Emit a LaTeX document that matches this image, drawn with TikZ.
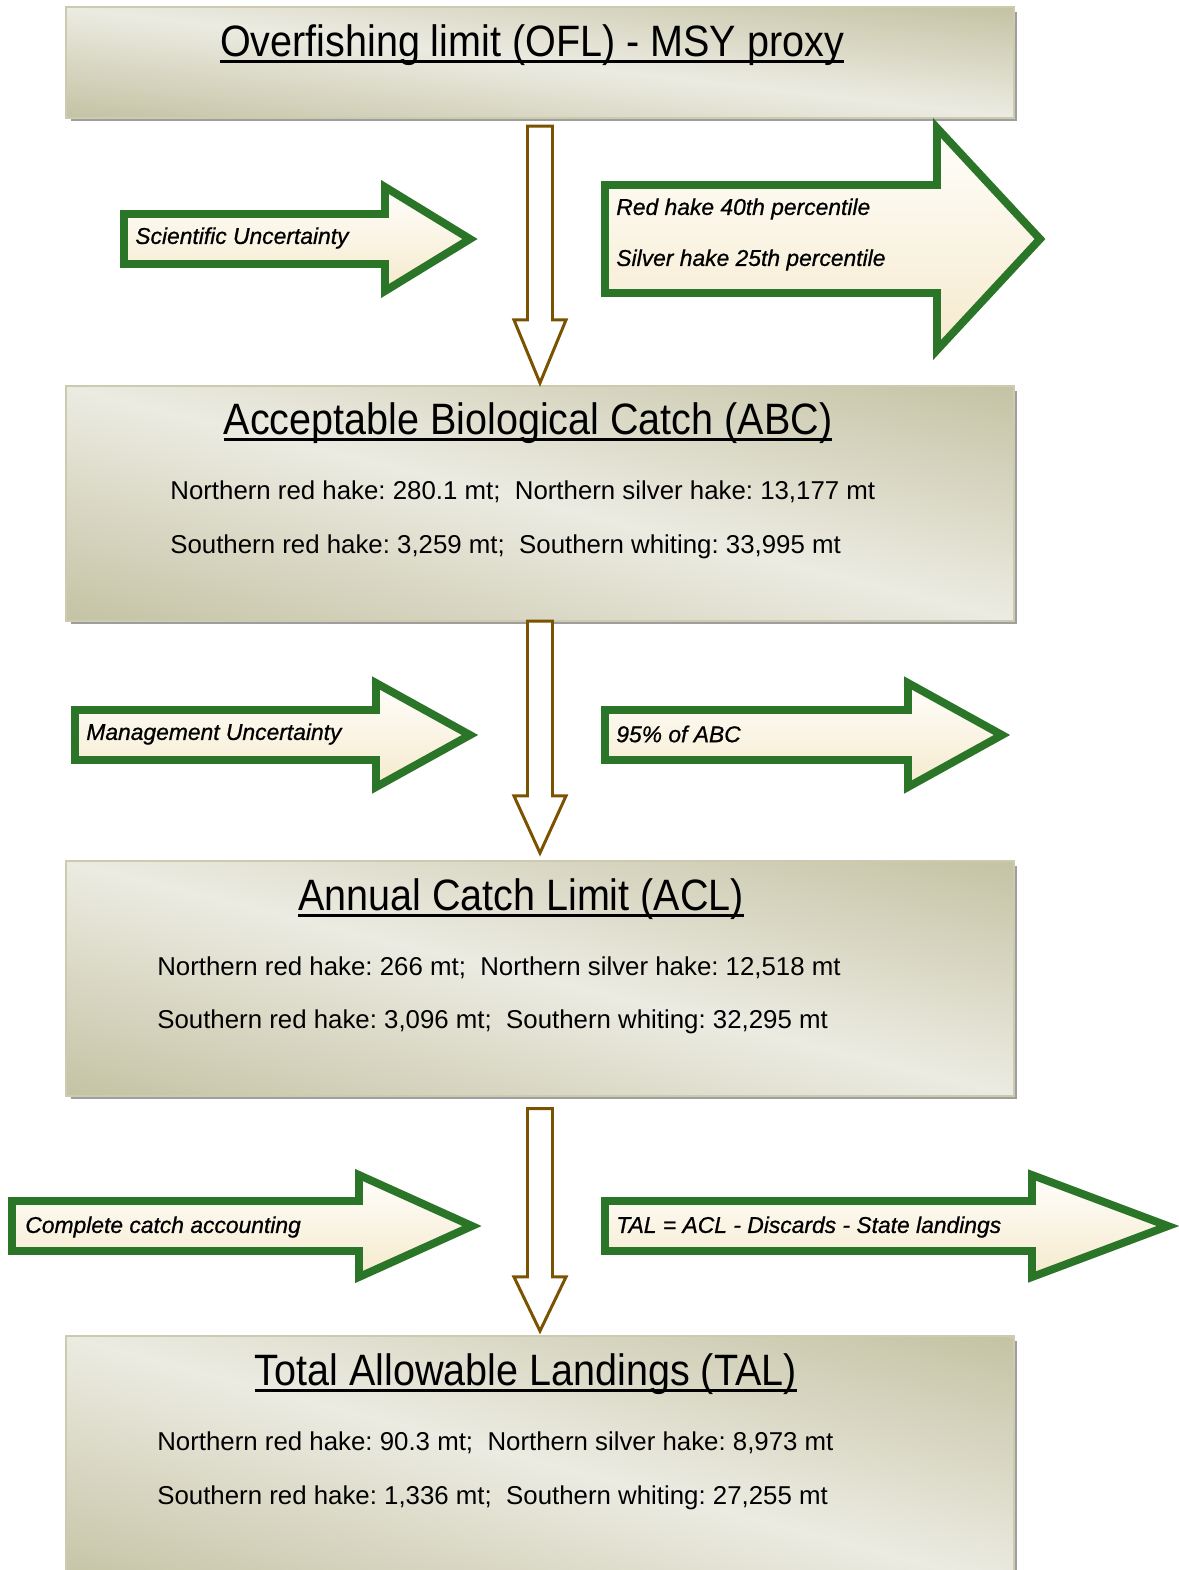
\documentclass[tikz,border=0pt]{standalone}
\usepackage{fontspec}
\setmainfont{Liberation Sans}
\newfontfamily\headfont[FakeStretch=0.9]{Liberation Sans}
\newfontfamily\notefont[FakeBold=0.8]{Liberation Sans}
\newcommand\titleline[1]{\setbox0\hbox{#1}\leavevmode\rlap{\rule[-3.6pt]{\wd0}{1.4pt}}\box0}
\usetikzlibrary{positioning, calc, shadows}
\definecolor{boxlight}{RGB}{236,235,226}
\definecolor{boxdark}{RGB}{197,195,164}
\definecolor{boxedge}{RGB}{204,203,176}
\definecolor{arrowgreen}{RGB}{42,117,40}
\definecolor{creamtop}{RGB}{255,254,251}
\definecolor{creambot}{RGB}{245,234,205}
\definecolor{flowbrown}{RGB}{122,82,0}
\tikzset{
    stage/.style = {rectangle, draw=boxedge, line width=1.2pt, fill=boxlight,
                        minimum width=18.92cm, minimum height=4.66cm, inner sep=0pt,
                        drop shadow={fill=black!38, opacity=1, shadow xshift=0.08cm, shadow yshift=-0.08cm}},
    sheen/.style = {left color=boxdark, right color=boxdark, middle color=boxlight},
    heading/.style = {inner sep=0pt, font=\headfont\fontsize{25}{29}\selectfont},
    figures/.style = {anchor=west, inner sep=0pt, font=\fontsize{14.7}{18}\selectfont},
    note/.style = {anchor=west, inner sep=0pt, font=\notefont\itshape\fontsize{13}{16}\selectfont},
    pointer/.style = {draw=arrowgreen, line width=4.5pt, top color=creamtop, bottom color=creambot},
    flow/.style = {draw=flowbrown, line width=1.7pt, fill=white}
}
% diagonal sheen on a stage: node, axis angle, half band
\newcommand\stageshade[3]{%
    \begin{scope}
        \clip (#1.south west) rectangle (#1.north east);
        \shade[sheen, transform canvas={rotate around={#2:(#1.center)}}]
            ($(#1.center)+(-#3,-1500)$) rectangle ($(#1.center)+(#3,1500)$);
    \end{scope}
    \draw[boxedge, line width=1.2pt] (#1.south west) rectangle (#1.north east);}
% green block arrow: left, head base, tip, centre y, half shaft, half head
\newcommand\sidearrow[6]{%
    \path[pointer] (#1,#4-#5) -- (#2,#4-#5) -- (#2,#4-#6) -- (#3,#4) -- (#2,#4+#6) -- (#2,#4+#5) -- (#1,#4+#5) -- cycle;}
% hollow down arrow: top, tip, head length
\newcommand\flowarrow[3]{%
    \draw[flow] ($(#1)+(-12.5,0)$) -- ($(#1)+(12.5,0)$) -- ($(#2)+(12.5,-#3)$) -- ($(#2)+(26,-#3)$) -- (#2)
        -- ($(#2)+(-26,-#3)$) -- ($(#2)+(-12.5,-#3)$) -- cycle;}
\frenchspacing

\begin{document}
\begin{tikzpicture}[x=0.02cm, y=-0.02cm]
    \useasboundingbox (0,0) rectangle (1179,1570);
    \clip (0,0) rectangle (1179,1570);

    % stages
    \node (ofl) [stage, minimum height=2.18cm] at (540,62.5) {};
    \node (abc) [stage] at (540,503.5) {};
    \node (acl) [stage] at (540,978.5) {};
    \node (tal) [stage, minimum height=5cm] at (540,1462) {};
    \stageshade{ofl}{83.4}{108}
    \stageshade{abc}{76.2}{226}
    \stageshade{acl}{76.2}{226}
    \stageshade{tal}{75.2}{240}

    \node (ofltitle) [heading] at (532,45) {\titleline{Overfishing limit (OFL) - MSY proxy}};
    \node (abctitle) [heading] at (528,423) {\titleline{Acceptable Biological Catch (ABC)}};
    \node (acltitle) [heading] at (521,899) {\titleline{Annual Catch Limit (ACL)}};
    \node (taltitle) [heading] at (526,1374) {\titleline{Total Allowable Landings (TAL)}};

    \node (abcnorth) [figures] at (170,492) {Northern red hake: 280.1 mt;\ \ Northern silver hake: 13,177 mt};
    \node (abcsouth) [figures] at (170,547) {Southern red hake: 3,259 mt;\ \ Southern whiting: 33,995 mt};
    \node (aclnorth) [figures] at (157,968) {Northern red hake: 266 mt;\ \ Northern silver hake: 12,518 mt};
    \node (aclsouth) [figures] at (157,1022) {Southern red hake: 3,096 mt;\ \ Southern whiting: 32,295 mt};
    \node (talnorth) [figures] at (157,1443) {Northern red hake: 90.3 mt;\ \ Northern silver hake: 8,973 mt};
    \node (talsouth) [figures] at (157,1498) {Southern red hake: 1,336 mt;\ \ Southern whiting: 27,255 mt};

    % side arrows
    \sidearrow{124}{385}{470}{239}{25}{52}
    \sidearrow{605}{937}{1040}{239}{54}{111}
    \sidearrow{75}{376}{470}{735}{25}{52}
    \sidearrow{605}{908}{1002}{735}{25}{52}
    \sidearrow{12}{359}{472}{1226}{25}{51}
    \sidearrow{605}{1032}{1168}{1226}{25}{51}

    \node (scinote) [note] at (135,238) {Scientific Uncertainty};
    \node (rednote) [note] at (616,209) {Red hake 40th percentile};
    \node (silvernote) [note] at (616,260) {Silver hake 25th percentile};
    \node (mgmtnote) [note] at (86,734) {Management Uncertainty};
    \node (abcnote) [note] at (616,734) {95\% of ABC};
    \node (catchnote) [note] at (25,1227) {Complete catch accounting};
    \node (talnote) [note] at (616,1227) {TAL = ACL - Discards - State landings};

    % flow between stages
    \coordinate (top1) at ($(ofl.south)+(0,8)$);
    \coordinate (tip1) at ($(abc.north)+(0,-3)$);
    \coordinate (top2) at (abc.south);
    \coordinate (tip2) at ($(acl.north)+(0,-8)$);
    \coordinate (top3) at ($(acl.south)+(0,12.5)$);
    \coordinate (tip3) at ($(tal.north)+(0,-5)$);
    \flowarrow{top1}{tip1}{63}
    \flowarrow{top2}{tip2}{57}
    \flowarrow{top3}{tip3}{54}
\end{tikzpicture}
\end{document}
